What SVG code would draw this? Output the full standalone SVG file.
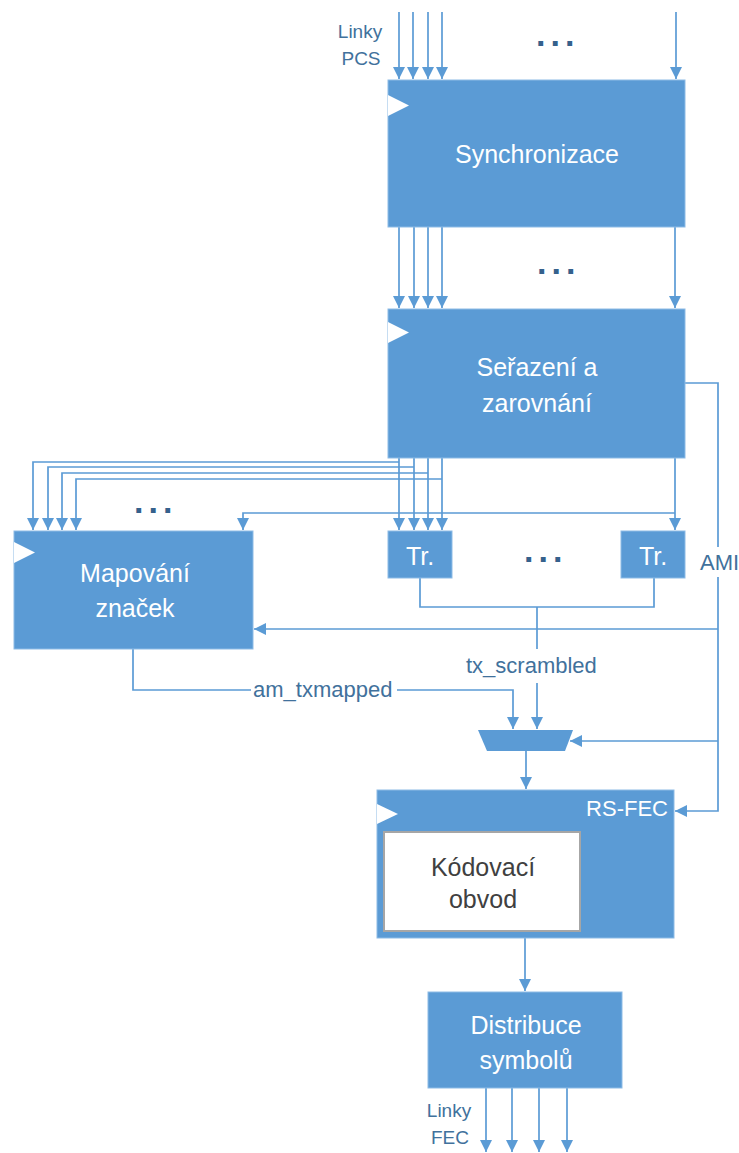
<svg xmlns="http://www.w3.org/2000/svg" width="739" height="1153" viewBox="0 0 739 1153">
<style>
.box{fill:#5B9BD5;stroke:#8DBBE6;stroke-width:1}
.clk{fill:#FFFFFF}
.wt{fill:#FFFFFF;font-family:"Liberation Sans",Arial,sans-serif;font-size:25px;text-anchor:middle}
.lbl{fill:#41719C;font-family:"Liberation Sans",Arial,sans-serif;font-size:22px}
.dots{fill:#35618C;font-family:"Liberation Sans",Arial,sans-serif;font-size:34px;font-weight:bold;letter-spacing:5px}
.ln{fill:none;stroke:#5B9BD5;stroke-width:1.7}
.arr{marker-end:url(#ah)}
</style>
<defs>
<marker id="ah" markerUnits="userSpaceOnUse" markerWidth="12" markerHeight="12" refX="12" refY="6" orient="auto">
<path d="M0,0 L12,6 L0,12 z" fill="#5B9BD5"/>
</marker>
</defs>

<g id="connectors">
<!-- inputs to Synchronizace -->
<path class="ln arr" d="M399,12 V79"/>
<path class="ln arr" d="M413,12 V79"/>
<path class="ln arr" d="M428,12 V79"/>
<path class="ln arr" d="M442,12 V79"/>
<path class="ln arr" d="M676,12 V79"/>
<!-- Synchronizace to Serazeni -->
<path class="ln arr" d="M399,227 V308"/>
<path class="ln arr" d="M414,227 V308"/>
<path class="ln arr" d="M428,227 V308"/>
<path class="ln arr" d="M442,227 V308"/>
<path class="ln arr" d="M675,227 V308"/>
<!-- Serazeni to Tr. -->
<path class="ln arr" d="M399,458 V530"/>
<path class="ln arr" d="M414,458 V530"/>
<path class="ln arr" d="M428,458 V530"/>
<path class="ln arr" d="M442,458 V530"/>
<path class="ln arr" d="M675,458 V530"/>
<!-- fan-out to Mapovani -->
<path class="ln arr" d="M399,462 H33 V530"/>
<path class="ln arr" d="M414,467 H48 V530"/>
<path class="ln arr" d="M428,473 H62 V530"/>
<path class="ln arr" d="M442,479 H76 V530"/>
<path class="ln arr" d="M675,513 H243 V530"/>
<!-- AMI -->
<path class="ln" d="M685,383 H718 V547"/>
<path class="ln arr" d="M718,577 V811 H675"/>
<path class="ln arr" d="M718,629 H254"/>
<path class="ln arr" d="M718,741 H570"/>
<!-- Tr. outputs -->
<path class="ln" d="M420,578 V607 H654 V578"/>
<path class="ln" d="M537,607 V649"/>
<path class="ln arr" d="M537,683 V729"/>
<!-- am_txmapped -->
<path class="ln" d="M133,649 V690 H251"/>
<path class="ln arr" d="M397,690 H513 V729"/>
<!-- mux to RS-FEC -->
<path class="ln arr" d="M526,751 V789"/>
<!-- RS-FEC to Distribuce -->
<path class="ln arr" d="M525,938 V991"/>
<!-- outputs -->
<path class="ln arr" d="M486,1088 V1152"/>
<path class="ln arr" d="M512,1088 V1152"/>
<path class="ln arr" d="M539,1088 V1152"/>
<path class="ln arr" d="M567,1088 V1152"/>
<!-- labels -->
<text class="lbl" x="466" y="673">tx_scrambled</text>
<text class="lbl" x="253" y="697">am_txmapped</text>
<text class="lbl" x="700" y="570">AMI</text>
</g>

<g id="labels">
<text class="lbl" style="font-size:19px" x="360" y="38" text-anchor="middle">Linky</text>
<text class="lbl" style="font-size:19px" x="361" y="65" text-anchor="middle">PCS</text>
<text class="lbl" style="font-size:19px" x="449" y="1117" text-anchor="middle">Linky</text>
<text class="lbl" style="font-size:19px" x="450" y="1144" text-anchor="middle">FEC</text>
<text class="dots" x="536" y="46">...</text>
<text class="dots" x="537" y="274">...</text>
<text class="dots" x="134" y="513">...</text>
<text class="dots" x="524" y="562">...</text>
</g>

<g id="sync">
<rect class="box" x="388" y="80" width="297" height="147"/>
<path class="clk" d="M388,95 L409,105.5 L388,116 z"/>
<text class="wt" x="537" y="163">Synchronizace</text>
</g>

<g id="serazeni">
<rect class="box" x="388" y="309" width="297" height="149"/>
<path class="clk" d="M388,322 L409,332.5 L388,343 z"/>
<text class="wt" x="537" y="376">Seřazení a</text>
<text class="wt" x="537" y="412">zarovnání</text>
</g>

<g id="mapovani">
<rect class="box" x="14" y="531" width="239" height="118"/>
<path class="clk" d="M14,542 L35,552.5 L14,563 z"/>
<text class="wt" x="135" y="582">Mapování</text>
<text class="wt" x="135" y="617">značek</text>
</g>

<g id="tr1">
<rect class="box" x="388" y="531" width="64" height="47"/>
<text class="wt" x="420" y="565">Tr.</text>
</g>

<g id="tr2">
<rect class="box" x="621" y="531" width="64" height="47"/>
<text class="wt" x="653" y="565">Tr.</text>
</g>

<g id="mux">
<path class="box" d="M478,730 H573 L565,751 H487 z" style="stroke:none"/>
</g>

<g id="rsfec">
<rect class="box" x="377" y="790" width="297" height="148"/>
<path class="clk" d="M377,804 L398,814 L377,824 z"/>
<text class="wt" x="668" y="816" style="text-anchor:end;font-size:22px">RS-FEC</text>
<rect x="384" y="832" width="196" height="99" fill="#FFFFFF" stroke="#A6A6A6" stroke-width="2"/>
<text class="wt" x="483" y="876" style="fill:#404040">Kódovací</text>
<text class="wt" x="483" y="908" style="fill:#404040">obvod</text>
</g>

<g id="distribuce">
<rect class="box" x="428" y="992" width="194" height="96"/>
<text class="wt" x="526" y="1034">Distribuce</text>
<text class="wt" x="526" y="1069">symbolů</text>
</g>
</svg>
